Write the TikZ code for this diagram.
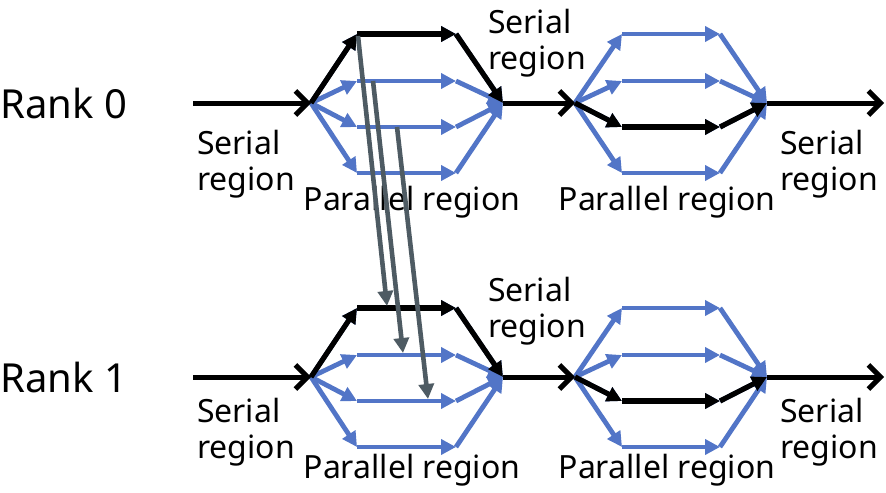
\documentclass[tikz,border=0pt]{standalone}
\usepackage{fontspec}
\setmainfont{Noto Sans}
\usepackage{xcolor}
\usepackage{tikz}
\usetikzlibrary{arrows.meta}
\definecolor{fjBlue}{HTML}{5275C7}
\definecolor{fjGrey}{HTML}{4E5B63}
\tikzset{
  fj diagram/.style={x=0.5pt, y=-0.5pt},
  fj serial/.style={draw=black, line width=2.5pt,
    -{Straight Barb[length=6pt,width=12pt]}},
  fj thread/.style={draw=fjBlue, line width=2.4pt,
    -{Triangle[length=7.5pt,width=7.5pt]}},
  fj master/.style={fj thread, draw=black, line width=2.6pt},
  fj message/.style={draw=fjGrey, line width=2.3pt,
    -{Triangle[length=7.5pt,width=7.5pt]}},
  fj rank/.style={font=\fontsize{20}{24}\selectfont, anchor=west, inner sep=0pt},
  fj label/.style={font=\fontsize{16}{18}\selectfont, align=left, inner sep=0pt}
}
\begin{document}
\begin{tikzpicture}[fj diagram]
\useasboundingbox (0,0) rectangle (886,492);
\foreach \r/\y/\t in {0/103/103, 1/377/371} {
  \node[fj rank] (rank\r) at (0,\y) {Rank \r};
  \coordinate (r\r-in) at (193,\y);
  \coordinate (r\r-out) at (884,\y);
  % fork, lane start, lane end, join, master lane
  \foreach \reg/\f/\s/\e/\j/\m in {a/311/357/456/503/1, b/575/622/720/767/3} {
    \coordinate (r\r\reg-fork) at (\f,\y);
    \coordinate (r\r\reg-join) at (\j,\y);
    \foreach \l/\dy in {1/-69, 2/-22, 3/24, 4/70} {
      \coordinate (r\r\reg-s\l) at (\s,\y+\dy);
      \coordinate (r\r\reg-e\l) at (\e,\y+\dy);
      \draw[fj thread] (r\r\reg-fork) -- (r\r\reg-s\l);
      \draw[fj thread] (r\r\reg-s\l) -- (r\r\reg-e\l);
      \draw[fj thread] (r\r\reg-e\l) -- (r\r\reg-join);
    }
    \draw[fj master] (r\r\reg-fork) -- (r\r\reg-s\m);
    \draw[fj master] (r\r\reg-s\m) -- (r\r\reg-e\m);
    \draw[fj master] (r\r\reg-e\m) -- (r\r\reg-join);
  }
  \draw[fj serial] (r\r-in) -- (r\r a-fork);
  \draw[fj serial] (r\r a-join) -- (r\r b-fork);
  \draw[fj serial] (r\r b-join) -- (r\r-out);
  \node[fj label] (ser\r-in) at (246,\t+61) {Serial\\region};
  \node[fj label] (par\r-a) at (412,\t+99) {Parallel region};
  \node[fj label] (ser\r-mid) at (537,\t-60) {Serial\\region};
  \node[fj label] (par\r-b) at (667,\t+99) {Parallel region};
  \node[fj label] (ser\r-out) at (829,\t+61) {Serial\\region};
}
% messages from rank 0 threads to rank 1 threads
\coordinate (send1) at (358,36);
\coordinate (recv1) at (387,306);
\coordinate (send2) at (373,81);
\coordinate (recv2) at (403,353);
\coordinate (send3) at (397,127);
\coordinate (recv3) at (428,399);
\foreach \i in {1,2,3}
  \draw[fj message] (send\i) -- (recv\i);
\end{tikzpicture}
\end{document}
